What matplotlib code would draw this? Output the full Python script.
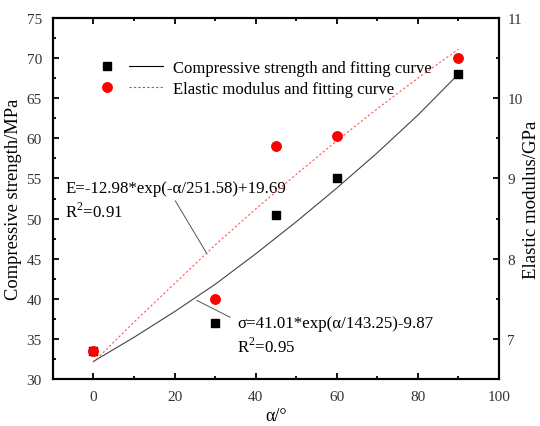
import matplotlib
matplotlib.use('Agg')
import matplotlib.pyplot as plt
from matplotlib.legend_handler import HandlerTuple
from matplotlib.lines import Line2D

plt.rcParams['font.family'] = ['Liberation Serif', 'DejaVu Serif']
plt.rcParams['mathtext.fontset'] = 'custom'
plt.rcParams['mathtext.rm'] = 'Liberation Serif'

# measured points
angle = [0, 30, 45, 60, 90]
strength = [33.5, 37.0, 50.5, 55.0, 68.0]        # MPa
modulus = [6.85, 7.50, 9.40, 9.53, 10.50]        # GPa

# fitting curves
fit_angle = [0, 10, 20, 30, 40, 50, 60, 70, 80, 90]
fit_strength = [32.2, 35.2, 38.4, 41.8, 45.6, 49.6, 53.8, 58.2, 62.9, 68.0]
fit_modulus = [6.71, 7.21, 7.69, 8.17, 8.62, 9.05, 9.47, 9.87, 10.25, 10.61]

fig = plt.figure(figsize=(5.4, 4.27), dpi=100)
ax = fig.add_axes([0.098, 0.110, 0.826, 0.8455])
ax2 = ax.twinx()

#左軸：抗壓強度
ax.plot(fit_angle, fit_strength, color='#444444', lw=0.8, zorder=2)
ax.plot(angle, strength, 's', color='black', ms=6, zorder=3)

#右軸：彈性模量
ax2.plot(fit_angle, fit_modulus, color='#ff5555', lw=0.8, ls=(0, (2, 2)), zorder=2)
ax2.plot(angle, modulus, 'o', color='#ff0000', ms=6.8, zorder=3)

ax.set_xlim(-10, 100)
ax.set_ylim(30, 75)
ax2.set_ylim(6.5, 11)
ax.set_xticks([0, 20, 40, 60, 80, 100])
ax.set_xticks([-10, 10, 30, 50, 70, 90], minor=True)
ax.set_yticks([30, 35, 40, 45, 50, 55, 60, 65, 70, 75])
ax.set_yticks([32.5, 37.5, 42.5, 47.5, 52.5, 57.5, 62.5, 67.5, 72.5], minor=True)
ax2.set_yticks([7, 8, 9, 10, 11])
ax2.set_yticks([6.5, 7.5, 8.5, 9.5, 10.5], minor=True)

for a in (ax, ax2):
    for s in a.spines.values():
        s.set_linewidth(1.5)
ax.tick_params(which='both', direction='in', top=True, width=1.3, labelsize=11,
               labelcolor='#333333')
ax.tick_params(axis='x', pad=8)
ax.tick_params(axis='y', pad=8)
ax.tick_params(which='major', length=4.5)
ax.tick_params(which='minor', length=2.5)
ax2.tick_params(which='both', direction='in', width=1.3, labelsize=11,
                labelcolor='#333333', pad=6)
ax2.tick_params(which='major', length=4.5)
ax2.tick_params(which='minor', length=2.5)

ax.set_xlabel('α/°', fontsize=13, labelpad=3)
ax.set_ylabel('Compressive strength/MPa', fontsize=13.3, labelpad=3)
ax2.set_ylabel('Elastic modulus/GPa', fontsize=13.6, labelpad=0.5)

#註解
ax.text(-7.0, 53.8, 'E=-12.98*exp(-α/251.58)+19.69', fontsize=12.2, va='center')
ax.text(-7.0, 50.95, 'R$^\\mathregular{2}$=0.91', fontsize=12.2, va='center')
ax.plot([20.2, 28.0], [52.2, 45.6], color='#555555', lw=0.7)
ax.text(35.5, 37.0, 'σ=41.01*exp(α/143.25)-9.87', fontsize=12.2, va='center')
ax.text(35.5, 34.1, 'R$^\\mathregular{2}$=0.95', fontsize=12.2, va='center')
ax.plot([25.5, 33.7], [39.8, 37.7], color='#555555', lw=0.7)

#圖例
h1 = (Line2D([], [], marker='s', ls='none', color='black', ms=6),
      Line2D([], [], color='black', lw=0.8))
h2 = (Line2D([], [], marker='o', ls='none', color='#ff0000', ms=6.8),
      Line2D([], [], color='#ff3333', lw=0.8, ls=(0, (2, 2))))
fig.legend([h1, h2], ['Compressive strength and fitting curve',
                      'Elastic modulus and fitting curve'],
           handler_map={tuple: HandlerTuple(ndivide=None, pad=0.3)},
           loc='upper left', bbox_to_anchor=(0.1667, 0.857), frameon=False,
           fontsize=12, handlelength=4.4, handletextpad=0.55, labelspacing=0.3,
           borderpad=0, borderaxespad=0)

fig.savefig('out.png', dpi=100)
